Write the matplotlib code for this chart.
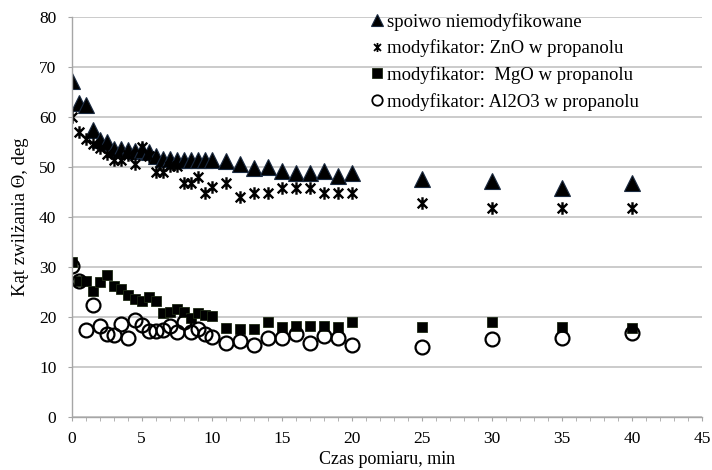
import numpy as np
import matplotlib
matplotlib.use("Agg")
import matplotlib.pyplot as plt
from matplotlib.path import Path

plt.rcParams['font.family'] = ['Liberation Serif', 'DejaVu Serif']

# Czas pomiaru [min]
czas = [0, 0.5, 1, 1.5, 2, 2.5, 3, 3.5, 4, 4.5, 5, 5.5, 6, 6.5, 7, 7.5, 8, 8.5, 9, 9.5, 10,
        11, 12, 13, 14, 15, 16, 17, 18, 19, 20, 25, 30, 35, 40]

# spoiwo niemodyfikowane
spoiwo = [67.3, 62.9, 62.4, 57.5, 55.5, 55.0, 53.6, 53.7, 53.5, 53.3, 53.5, 53.0, 52.2, 51.7,
          51.6, 51.5, 51.4, 51.4, 51.4, 51.4, 51.5,
          51.2, 50.6, 49.8, 50.1, 49.2, 48.8, 48.8, 49.2, 48.3, 48.9, 47.6, 47.3, 45.9, 46.8]

# modyfikator: ZnO
zno = [60.0, 57.1, 55.7, 54.7, 53.8, 52.7, 51.5, 51.5, 52.5, 50.7, 54.0, 52.3, 49.0, 49.0,
       50.2, 50.2, 46.9, 46.9, 48.1, 44.8, 46.0,
       46.9, 44.0, 44.9, 44.9, 45.9, 45.9, 45.9, 44.9, 44.9, 44.9, 42.9, 41.9, 41.9, 41.9]

# modyfikator: MgO
mgo = [30.9, 27.2, 27.1, 25.2, 26.9, 28.3, 26.2, 25.5, 24.4, 23.5, 23.2, 24.0, 23.2, 20.7,
       20.9, 21.5, 21.0, 19.7, 20.7, 20.3, 20.2,
       17.7, 17.6, 17.6, 19.0, 17.9, 18.2, 18.2, 18.2, 17.9, 19.0, 17.9, 18.9, 18.0, 17.7]

# modyfikator: Al2O3
al2o3 = [30.2, 27.1, 17.3, 22.4, 18.2, 16.5, 16.4, 18.5, 15.7, 19.4, 18.4, 17.2, 17.2, 17.3,
         18.2, 16.9, 18.9, 17.0, 17.5, 16.5, 15.9,
         14.8, 15.2, 14.3, 15.7, 15.7, 16.6, 14.7, 16.2, 15.7, 14.3, 13.9, 15.6, 15.7, 16.7]

etykiety = ["spoiwo niemodyfikowane",
            "modyfikator: ZnO w propanolu",
            "modyfikator:  MgO w propanolu",
            "modyfikator: Al2O3 w propanolu"]

# gwiazdka jak w Excelu: x + pionowa kreska
gwiazdka = Path([(-1, -1), (1, 1), (-1, 1), (1, -1), (0, -1.3), (0, 1.3)],
                [Path.MOVETO, Path.LINETO, Path.MOVETO, Path.LINETO, Path.MOVETO, Path.LINETO])

fig = plt.figure(figsize=(7.12, 4.70), dpi=100)
ax = fig.add_axes([0.1007, 0.1134, 0.8853, 0.8498])

ax.plot(czas, spoiwo, linestyle='none', marker='^', ms=11.5, mfc='black', mec='#1a2a40',
        mew=0.8, label=etykiety[0])
ax.plot(czas, zno, linestyle='none', marker=gwiazdka, ms=9, mfc='none', mec='black',
        mew=1.7, label=etykiety[1])
ax.plot(czas, mgo, linestyle='none', marker='s', ms=7.5, mfc='black', mec='#1e2a14',
        mew=0.6, label=etykiety[2])
ax.plot(czas, al2o3, linestyle='none', marker='o', ms=10, mfc='none', mec='black',
        mew=1.6, label=etykiety[3])

ax.set_xlim(0, 45)
ax.set_ylim(0, 80)
ax.set_xticks(np.arange(0, 46, 5))
ax.set_xticks(np.arange(0, 46, 1), minor=True)
ax.set_yticks(np.arange(0, 81, 10))

ax.grid(axis='y', color='#bdbdbd', linewidth=1.1)
ax.set_axisbelow(True)
for s in ['top', 'right']:
    ax.spines[s].set_visible(False)
for s in ['left', 'bottom']:
    ax.spines[s].set_color('#a6a6a6')
    ax.spines[s].set_linewidth(1.0)

ax.tick_params(axis='x', which='both', direction='out', length=3, color='#a6a6a6',
               labelsize=12.5, pad=7)
ax.tick_params(axis='y', which='both', direction='out', length=3, color='#a6a6a6',
               labelsize=12.5, pad=8)

ax.set_xlabel("Czas pomiaru, min", fontsize=13, labelpad=3)
ax.set_ylabel("Kąt zwilżania Θ, deg", fontsize=13.5, labelpad=7)

leg = ax.legend(loc='upper left', bbox_to_anchor=(0.519, 0.973), bbox_transform=fig.transFigure,
                frameon=False, fontsize=13.5, handlelength=0.8, handletextpad=0.15,
                labelspacing=0.47, borderpad=0, borderaxespad=0)
for h, rozm in zip(leg.legend_handles, [8.6, 6.5, 6.5, 7.5]):
    h.set_markersize(rozm)
leg.legend_handles[1].set_markeredgewidth(1.3)
leg.legend_handles[3].set_markeredgewidth(1.3)

fig.savefig("out.png", dpi=100)
